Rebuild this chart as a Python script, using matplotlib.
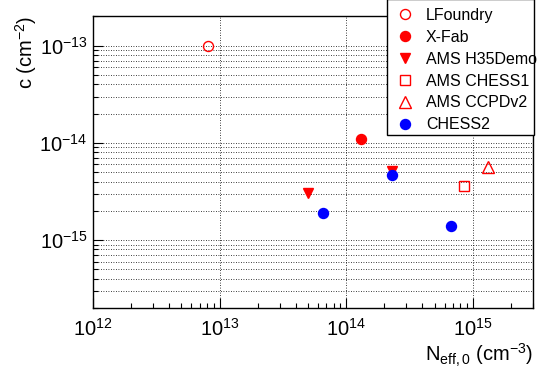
import numpy as np
import matplotlib.pyplot as plt
from matplotlib.ticker import LogLocator, NullFormatter
from matplotlib.patches import Rectangle

plt.rcParams['font.family'] = ['Liberation Sans', 'DejaVu Sans']
plt.rcParams['mathtext.fontset'] = 'custom'
plt.rcParams['mathtext.rm'] = 'Liberation Sans'
plt.rcParams['mathtext.it'] = 'Liberation Sans:italic'

# data: N_eff,0 (cm^-3) and c (cm^-2)
lfoundry_n = [8.1e12]
lfoundry_c = [1.0e-13]
xfab_n = [1.32e14]
xfab_c = [1.1e-14]
h35_n = [5.0e13, 2.32e14]
h35_c = [3.08e-15, 5.14e-15]
chess1_n = [8.57e14]
chess1_c = [3.6e-15]
ccpd_n = [1.33e15]
ccpd_c = [5.69e-15]
chess2_n = [6.58e13, 2.32e14, 6.76e14]
chess2_c = [1.91e-15, 4.68e-15, 1.41e-15]

W, H = 543, 373
fig = plt.figure(figsize=(W / 100, H / 100), dpi=100)
ax = fig.add_axes([0.1713, 0.1743, 0.9816 - 0.1713, 0.957 - 0.1743])
ax.set_xscale('log')
ax.set_yscale('log')
ax.set_xlim(1e12, 3.0e15)
ax.set_ylim(2.0e-16, 2.02e-13)

ax.xaxis.set_minor_locator(LogLocator(base=10, subs=np.arange(2, 10)))
ax.yaxis.set_minor_locator(LogLocator(base=10, subs=np.arange(2, 10)))
ax.xaxis.set_minor_formatter(NullFormatter())
ax.yaxis.set_minor_formatter(NullFormatter())

grid_style = dict(color='black', linestyle=(0, (1, 2)), linewidth=0.6)
ax.grid(True, which='major', axis='x', **grid_style)
ax.grid(True, which='both', axis='y', **grid_style)
ax.set_axisbelow(True)

ax.tick_params(which='both', direction='in', top=False, right=False, labelsize=14.5)
ax.tick_params(which='major', length=7, width=0.8)
ax.tick_params(which='minor', length=3.5, width=0.8)
ax.tick_params(axis='x', pad=7)
ax.tick_params(axis='y', pad=4)
for s in ax.spines.values():
    s.set_linewidth(1.0)

ms = 7.2
ax.plot(lfoundry_n, lfoundry_c, 'o', ms=ms, mfc='none', mec='red', mew=1.0, label='LFoundry', ls='none')
ax.plot(xfab_n, xfab_c, 'o', ms=ms, color='red', label='X-Fab', ls='none')
ax.plot(h35_n, h35_c, 'v', ms=ms, color='red', label='AMS H35Demo', ls='none')
ax.plot(chess1_n, chess1_c, 's', ms=ms, mfc='none', mec='red', mew=1.0, label='AMS CHESS1', ls='none')
ax.plot(ccpd_n, ccpd_c, '^', ms=ms + 1, mfc='none', mec='red', mew=1.0, label='AMS CCPDv2', ls='none')
ax.plot(chess2_n, chess2_c, 'o', ms=ms, color='blue', label='CHESS2', ls='none')

ax.set_xlabel(r'N$_{\mathrm{eff,0}}$ (cm$^{-3}$)', fontsize=14.5, loc='right', labelpad=2)
ax.set_ylabel(r'c (cm$^{-2}$)', fontsize=14.5, loc='top', labelpad=0)

# legend box like ROOT's TLegend (text may touch the border)
box = Rectangle((387 / W, 1 - 135 / H), (534 - 387) / W, 136 / H, transform=fig.transFigure,
                facecolor='white', edgecolor='black', linewidth=1.0, zorder=5)
fig.patches.append(box)
leg = fig.legend(loc='upper left', bbox_to_anchor=(395.4 / W, 1 - 8 / H), fontsize=11.5,
                 frameon=False, borderaxespad=0, borderpad=0, handlelength=1.2,
                 handletextpad=0.71, labelspacing=0.43)
leg.set_zorder(6)

fig.savefig('out.png', dpi=100)
